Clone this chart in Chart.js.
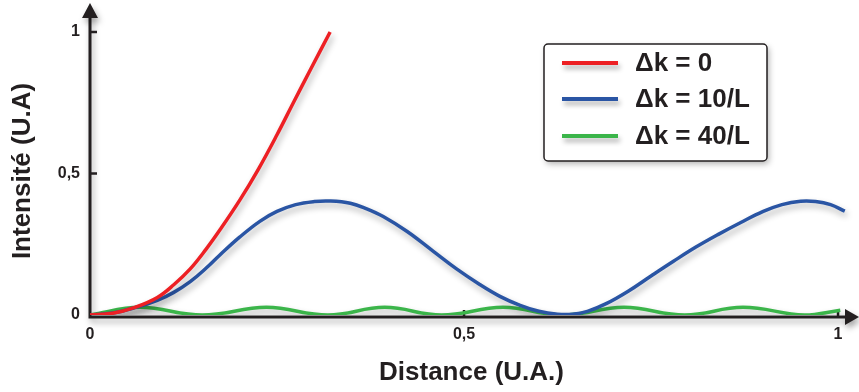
<!DOCTYPE html>
<html lang="fr">
<head>
<meta charset="UTF-8">
<title>Intensité</title>
<script src="https://cdn.jsdelivr.net/npm/chart.js"></script>
<style>
  html, body { margin: 0; padding: 0; background: #fff; }
  #wrap { width: 859px; height: 392px; }
</style>
</head>
<body>
<div id="wrap"><canvas id="myChart" width="859" height="392"></canvas></div>
<script>
// valeurs
const xTicks = [0, 0.5, 1];
const yTicks = [0, 0.5, 1];
const legendLabels = ['Δk = 0', 'Δk = 10/L', 'Δk = 40/L'];

const redX = [0, 0.03, 0.06, 0.09, 0.112, 0.134, 0.155, 0.174, 0.20, 0.225, 0.25, 0.272, 0.296, 0.321];
const redY = [0, 0.006, 0.027, 0.062, 0.107, 0.163, 0.232, 0.302, 0.405, 0.515, 0.637, 0.751, 0.874, 1.0];

const blueX = [0, 0.03, 0.06, 0.09, 0.112, 0.134, 0.155, 0.174, 0.20, 0.227, 0.25, 0.275, 0.30, 0.32, 0.348, 0.37, 0.392, 0.424, 0.459, 0.49, 0.521, 0.548, 0.575, 0.60, 0.625, 0.645, 0.665, 0.69, 0.72, 0.75, 0.78, 0.81, 0.84, 0.87, 0.90, 0.925, 0.95, 0.97, 0.99, 1.009];
const blueY = [0, 0.007, 0.026, 0.052, 0.08, 0.118, 0.165, 0.213, 0.275, 0.331, 0.366, 0.39, 0.401, 0.403, 0.395, 0.375, 0.348, 0.295, 0.225, 0.163, 0.108, 0.066, 0.034, 0.013, 0.003, 0.003, 0.013, 0.04, 0.085, 0.138, 0.19, 0.24, 0.285, 0.327, 0.366, 0.39, 0.402, 0.401, 0.39, 0.367];

const greenX = [0, 0.067, 0.15, 0.236, 0.318, 0.394, 0.47, 0.552, 0.632, 0.714, 0.795, 0.873, 0.955, 1.003];
const greenY = [0, 0.027, 0, 0.027, 0, 0.027, 0, 0.027, 0, 0.027, 0, 0.027, 0, 0.017];

const ink = '#231f20';
const couleurs = ['#ed2024', '#2a55a4', '#3bb54a'];

function pts(xs, ys) {
  return xs.map((x, i) => ({ x: x, y: ys[i] }));
}

function fmt(v) {
  return String(v).replace('.', ',');
}

// axes, ombres, légende, titre vertical
const decor = {
  id: 'decor',
  beforeDatasetsDraw(chart) {
    const ctx = chart.ctx;
    const a = chart.chartArea;
    const x0 = a.left;
    const y0 = chart.scales.y.getPixelForValue(0) + 2;
    ctx.save();
    ctx.shadowColor = 'rgba(0,0,0,0.35)';
    ctx.shadowBlur = 6;
    ctx.shadowOffsetX = 2;
    ctx.shadowOffsetY = 4;
    ctx.strokeStyle = ink;
    ctx.fillStyle = ink;
    ctx.lineWidth = 3;
    ctx.beginPath();
    ctx.moveTo(x0, y0 + 1.5);
    ctx.lineTo(x0, 14);
    ctx.moveTo(x0 - 1.5, y0);
    ctx.lineTo(848, y0);
    ctx.stroke();
    // flèches
    ctx.beginPath();
    ctx.moveTo(x0, 3);
    ctx.lineTo(x0 - 8, 18);
    ctx.lineTo(x0 + 8, 18);
    ctx.closePath();
    ctx.fill();
    ctx.beginPath();
    ctx.moveTo(859, y0);
    ctx.lineTo(845, y0 - 8);
    ctx.lineTo(845, y0 + 8);
    ctx.closePath();
    ctx.fill();
    ctx.restore();
    // graduations
    ctx.save();
    ctx.strokeStyle = ink;
    ctx.lineWidth = 2.5;
    ctx.beginPath();
    [0.5, 1].forEach(v => {
      const py = chart.scales.y.getPixelForValue(v);
      ctx.moveTo(x0, py);
      ctx.lineTo(x0 + 7, py);
      const px = chart.scales.x.getPixelForValue(v);
      ctx.moveTo(px, y0);
      ctx.lineTo(px, y0 - 7);
    });
    ctx.stroke();
    ctx.restore();

    ctx.save();
    ctx.shadowColor = 'rgba(0,0,0,0.3)';
    ctx.shadowBlur = 6;
    ctx.shadowOffsetX = 2;
    ctx.shadowOffsetY = 4;
  },
  afterDatasetsDraw(chart) {
    chart.ctx.restore();
  },
  afterDraw(chart) {
    const ctx = chart.ctx;
    // titre de l'axe vertical
    ctx.save();
    ctx.translate(23, 171);
    ctx.rotate(-Math.PI / 2);
    ctx.font = 'bold 26px "Liberation Sans", Arial, sans-serif';
    ctx.fillStyle = ink;
    ctx.textAlign = 'center';
    ctx.textBaseline = 'middle';
    ctx.fillText('Intensité (U.A)', 0, 0);
    ctx.restore();

    // légende
    const bx = 544, by = 44, bw = 223, bh = 117;
    ctx.save();
    ctx.shadowColor = 'rgba(0,0,0,0.3)';
    ctx.shadowBlur = 6;
    ctx.shadowOffsetX = 2;
    ctx.shadowOffsetY = 3;
    ctx.fillStyle = '#fff';
    ctx.beginPath();
    ctx.roundRect(bx, by, bw, bh, 4);
    ctx.fill();
    ctx.restore();
    ctx.save();
    ctx.strokeStyle = ink;
    ctx.lineWidth = 1.5;
    ctx.beginPath();
    ctx.roundRect(bx, by, bw, bh, 4);
    ctx.stroke();
    const rows = [63, 99, 136];
    chart.data.datasets.forEach((ds, i) => {
      ctx.save();
      ctx.shadowColor = 'rgba(0,0,0,0.3)';
      ctx.shadowBlur = 5;
      ctx.shadowOffsetX = 2;
      ctx.shadowOffsetY = 4;
      ctx.strokeStyle = ds.borderColor;
      ctx.lineWidth = 4;
      ctx.beginPath();
      ctx.moveTo(562, rows[i]);
      ctx.lineTo(618, rows[i]);
      ctx.stroke();
      ctx.restore();
      ctx.font = 'bold 26px "Liberation Sans", Arial, sans-serif';
      ctx.fillStyle = ink;
      ctx.textAlign = 'left';
      ctx.textBaseline = 'middle';
      ctx.fillText(ds.label, 635, rows[i] + 1);
    });
    ctx.restore();
  }
};

const dados = {
  datasets: [
    { label: legendLabels[0], data: pts(redX, redY), borderColor: couleurs[0] },
    { label: legendLabels[1], data: pts(blueX, blueY), borderColor: couleurs[1] },
    { label: legendLabels[2], data: pts(greenX, greenY), borderColor: couleurs[2] }
  ]
};

const tickFont = { family: '"Liberation Sans", Arial, sans-serif', size: 16, weight: 'bold' };

const config = {
  type: 'line',
  data: dados,
  options: {
    responsive: false,
    animation: false,
    layout: { padding: { left: 0, right: 6, top: 5, bottom: 0 } },
    elements: {
      point: { radius: 0 },
      line: { borderWidth: 3.5, tension: 0.4, fill: false }
    },
    plugins: {
      legend: { display: false },
      tooltip: { enabled: false }
    },
    scales: {
      x: {
        type: 'linear',
        min: 0,
        max: 1.02,
        grid: { display: false, drawTicks: false },
        border: { display: false },
        afterBuildTicks: s => { s.ticks = xTicks.map(v => ({ value: v })); },
        afterFit: s => { s.height = 77; },
        ticks: { color: ink, font: tickFont, padding: 10, callback: v => fmt(v) },
        title: {
          display: true,
          text: 'Distance (U.A.)',
          color: ink,
          font: { family: '"Liberation Sans", Arial, sans-serif', size: 26, weight: 'bold' },
          padding: { top: 0, bottom: 4 }
        }
      },
      y: {
        min: 0,
        max: 1.044,
        grid: { display: false, drawTicks: false },
        border: { display: false },
        afterBuildTicks: s => { s.ticks = yTicks.map(v => ({ value: v })); },
        afterFit: s => { s.width = 90; },
        ticks: { color: ink, font: tickFont, padding: 10, callback: v => fmt(v) }
      }
    }
  },
  plugins: [decor]
};

new Chart(document.getElementById('myChart'), config);
</script>
</body>
</html>
